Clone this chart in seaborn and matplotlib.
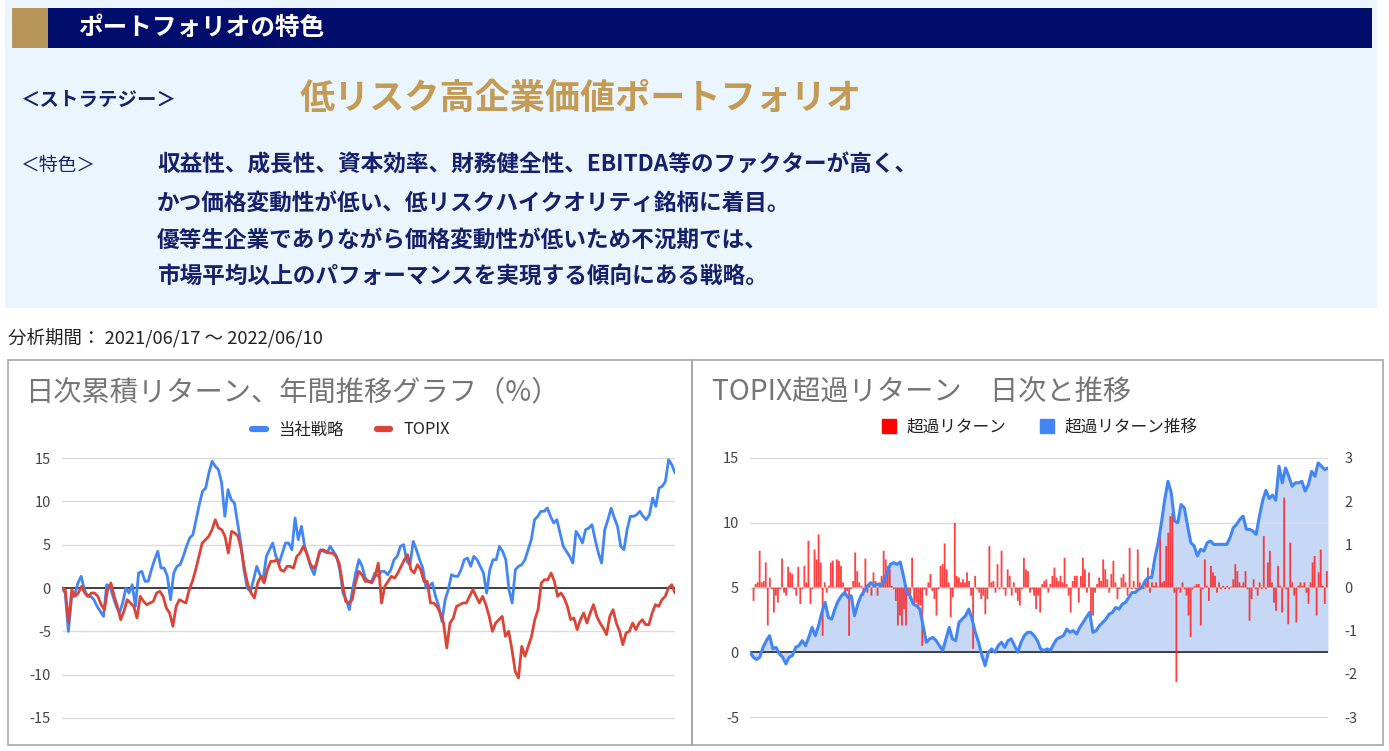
import numpy as np
import pandas as pd
import matplotlib
matplotlib.use("Agg")
import matplotlib.pyplot as plt
from matplotlib.patches import Rectangle
from matplotlib.lines import Line2D
import seaborn as sns

# ---------------- data ----------------
period_text = "分析期間： 2021/06/17 ～ 2022/06/10"
series_names = ["当社戦略", "TOPIX"]
excess_names = ["超過リターン", "超過リターン推移"]
left_ticks = [-15, -10, -5, 0, 5, 10, 15]
right_left_ticks = [-5, 0, 5, 10, 15]
right_right_ticks = [-3, -2, -1, 0, 1, 2, 3]

strategy = [0.0, -0.58, -5.0, -1.15, -0.77, 0.58, 1.35, -0.19, -0.96, -0.96, -1.35, -2.12, -2.69, -3.27,
            0.38, 0.19, -0.96, -2.12, -2.88, -1.73, 0.0, -0.58, 0.38, -2.12, 1.73, 1.92, 0.77, 0.77, 2.12,
            3.27, 4.23, 2.31, 2.31, 1.35, -1.35, 1.73, 2.5, 2.69, 3.65, 4.81, 5.77, 6.15, 7.88, 9.62, 11.15,
            11.54, 13.27, 14.62, 14.04, 13.65, 12.12, 8.27, 11.35, 10.19, 9.81, 7.5, 5.19, 2.12, 0.0, -0.38,
            0.96, 2.5, 1.54, 0.96, 3.65, 4.42, 5.19, 3.65, 2.88, 4.04, 5.19, 5.19, 4.42, 8.08, 5.58, 7.12,
            4.81, 3.65, 2.31, 1.54, 3.27, 4.42, 4.23, 4.04, 4.81, 4.23, 3.65, 2.12, -0.58, -1.35, -2.5,
            -0.19, 1.73, 3.27, 2.5, 1.15,
            0.77, 0.77, 1.73, 1.35, 1.92, 1.92, 1.54, 2.12, 3.27, 3.65, 4.81, 5.0, 3.08, 2.69, 5.38, 4.42,
            3.27, 2.31, 0.0, 0.19, 0.58, -0.96, -2.12, -3.85, -1.35, -0.19, 1.54, 1.35, 1.35, 2.12, 3.27,
            3.46, 2.5, 3.65, 3.27, 2.5, 1.73, -0.58, 2.12, 3.27, 3.27, 4.81, 4.23, 3.27, -0.19, -1.73, 2.12,
            2.5, 2.69, 3.27, 4.42, 5.58, 7.88, 8.27, 8.85, 8.85, 9.23, 8.27, 7.5, 7.88, 6.35, 4.81, 4.23,
            3.65, 2.88, 6.54, 5.96, 5.19, 6.73, 6.92, 7.31, 5.58, 4.04, 2.88, 6.73, 7.88, 9.23, 8.08, 7.12,
            4.81, 4.42, 6.73, 8.27, 8.27, 8.46, 8.85, 8.27, 7.88, 8.46, 10.38, 9.42, 11.54, 11.73, 12.31,
            14.81, 14.23, 13.27]

topix = [0.0, -0.19, -4.04, -0.19, -0.96, -0.58, 0.19, -0.58, -0.96, -0.58, -0.58, -0.96, -1.92, -2.5,
         -0.19, 0.58, -0.96, -2.12, -3.65, -2.69, -1.35, -1.73, -2.12, -3.46, -0.96, -1.54, -1.92, -1.73,
         -1.54, -0.58, -0.38, -0.96, -2.31, -2.88, -4.42, -2.12, -1.35, -1.54, -1.73, -0.19, 0.77, 2.12,
         3.65, 5.19, 5.58, 5.96, 6.73, 7.88, 6.92, 6.73, 5.96, 4.04, 6.54, 6.35, 5.96, 4.42, 2.12, 0.38,
         -0.58, -1.15, 0.58, 1.35, 0.58, 2.12, 3.08, 3.08, 3.27, 2.12, 1.92, 2.5, 2.5, 2.31, 3.65, 4.04,
         4.81, 4.04, 2.88, 2.31, 2.69, 4.23, 4.42, 4.23, 4.04, 4.04, 3.65, 2.88, 0.58, -1.54, -1.73,
         -1.35, 0.58, 1.92, 1.54, 0.77, 0.77,
         0.58, 1.35, 2.88, -1.73, 0.19, 0.77, 1.35, 1.15, 1.73, 2.5, 3.27, 3.85, 2.12, 1.73, 2.69, 2.12,
         0.77, 0.77, -1.73, -1.73, -2.12, -2.88, -4.04, -6.92, -4.04, -3.46, -2.12, -1.92, -1.73, -1.73,
         -0.96, -0.19, -0.96, -1.73, -0.96, -1.92, -3.27, -5.0, -4.04, -3.65, -3.27, -5.58, -5.0, -7.12,
         -9.62, -10.38, -6.73, -7.88, -6.73, -5.58, -3.65, -2.5, 0.58, 0.96, 0.96, 1.73, 0.77, -0.96,
         -0.58, -1.15, -2.12, -3.65, -3.46, -4.81, -3.65, -2.88, -4.04, -2.88, -1.92, -3.27, -4.04, -4.62,
         -5.38, -3.27, -2.5, -4.04, -5.0, -6.54, -5.19, -5.0, -4.04, -4.81, -4.04, -3.65, -4.23, -4.23,
         -2.88, -1.92, -2.12, -1.35, -0.96, 0.0, 0.38, -0.58]

excess_cum = [0.0, -0.38, -0.56, -0.38, 0.38, 0.9, 1.28, 0.26, 0.38, -0.13, -0.38, -0.9, -0.38, -0.26, 0.38,
              0.51, 0.9, 0.51, 1.15, 1.92, 1.28, 2.05, 3.08, 3.85, 2.69, 2.56, 3.33, 3.97, 4.36, 4.62, 4.23,
              4.36, 2.82, 3.72, 4.36, 4.74, 5.13, 5.38, 5.13, 5.26, 5.13, 5.51, 6.15, 6.79, 6.92, 6.79, 6.97,
              5.9, 4.62, 4.36, 3.72, 3.59, 3.33, 2.05, 0.77, 1.03, 1.15, 0.9, 0.51, 0.13, 1.03, 1.92, 1.03,
              0.9, 2.31, 2.56, 2.82, 3.33, 2.56, 1.54, 0.77, -0.26, -1.03, 0.0, 0.26, 0.0, 0.51, 0.77, 0.38,
              0.9, 1.03, 0.51, 0.0, 0.77, 1.28, 1.54, 1.54, 1.28,
              0.9, 0.26, 0.13, 0.26, 0.13, 0.64, 1.03, 1.15, 1.28, 1.79, 1.54, 1.67, 1.41, 1.92, 2.31, 2.69,
              3.08, 1.54, 1.67, 2.05, 2.31, 2.56, 2.95, 3.08, 3.46, 3.33, 3.72, 3.85, 4.23, 4.62, 4.62, 4.87,
              5.0, 5.51, 5.77, 5.77, 7.31, 8.46, 10.0, 11.79, 13.2, 12.3, 10.13, 10.0, 11.41, 11.15, 9.74,
              8.46, 8.21, 7.44, 7.95, 7.82, 8.46, 8.59, 8.33, 8.33, 8.33, 8.33, 8.33, 8.85, 9.62, 9.87, 10.26,
              10.51, 9.49, 9.49, 9.36, 9.1, 10.51, 11.72, 12.51, 11.87, 12.13, 11.74, 14.36, 13.08, 14.23,
              13.59, 12.82, 13.08, 13.08, 13.2, 12.44, 12.95, 13.97, 13.59, 14.62, 14.36, 14.1, 14.23]

excess_daily = [-0.31, 0.08, 0.12, 0.85, 0.12, 0.15, 0.58, -0.88, 0.23, -0.04, -0.58, -0.19, -0.35, -0.04,
                0.67, -0.12, -0.19, 0.48, 0.35, 0.31, -0.04, -0.19, 0.48, -0.38, -0.04, 0.5, 0.12, 1.08,
                -0.38, -0.04, 0.88, 0.65, 1.23, 0.58, -1.12, 0.12, -0.12, 0.04, 0.58, 0.62, 0.02, 0.65,
                0.62, 0.5, 0.12, -0.19, -0.08, -1.12, -0.04, 0.15, 0.81, 0.38, 0.12, 0.04, -0.19, 0.67,
                -0.12, 0.12, -0.19, 0.35, 0.15, -0.19, 0.12, 0.27, 0.85, 0.65, 0.5, 0.42, 0.04, -0.04,
                -0.31, -0.88, -0.65, -0.88, -0.5, -0.88, -0.19, -0.27, 0.69, -0.42, -0.35, -0.5, -0.42,
                -1.35, -0.04, -0.19, 0.12, 0.31, -0.08, -0.27, -0.65, -0.04, 0.5, 0.54, 1.02, 0.42, 0.12,
                -0.69, -0.23, 1.5, 0.27, 0.23, 0.12, 0.19, 0.12, 0.35, 0.15, -0.19, -1.42, 0.27, -0.04,
                -0.12, -0.27, -0.19, -0.62, -0.27, 0.96, 0.12, 0.15, -0.12, 0.54, -0.04, 0.85, -0.04,
                -0.19, 0.42, 0.27, -0.19, 0.12, -0.12, -0.31, -0.42, -0.04, 0.69, 0.42, 0.38, -0.12,
                -0.04, -0.19,
                -0.5, -0.19, -0.58, 0.08, 0.15, 0.19, -0.12, 0.08, 0.27, 0.46, 0.23, 0.15, 0.27, 0.12,
                0.69, 0.08, -0.19, -0.58, 0.15, 0.27, 0.27, -0.35, 0.27, 0.69, 0.42, -0.12, 0.35, -0.73,
                -0.65, -0.12, 0.08, 0.23, 0.15, 0.65, 0.42, 0.19, -0.12, 0.31, 0.62, 0.12, -0.27, -0.04,
                0.23, 0.31, 0.12, -0.19, 0.92, -0.04, 0.15, -0.04, 0.88, 0.12, 0.02, -0.04, 0.12, 0.46,
                -0.12, 0.12, 0.04, 0.12, 0.02, 1.38, 0.12, 0.15, 0.96, 1.27, 1.65, 1.73, -0.12, -2.19,
                -0.04, -0.12, 0.12, -0.04, -0.19, -0.65, -1.15, -0.04, 0.04, 0.08, 0.08, -0.88, -0.04,
                0.65, 0.04, -0.31, 0.5, 0.35, 0.27, -0.12, 0.12, -0.04, 0.04, -0.04, 0.04, -0.04, 0.02,
                0.19, 0.54, 0.38, 0.12, 0.04, 0.12, 0.38, -0.04, -0.77, -0.27, 0.19, -0.04, -0.19, 0.12,
                -0.04, 1.19, -0.04, 0.58, 0.85, 0.12, -0.35, -0.54, 0.5, 0.04, -0.58, 2.08, -0.04, -0.85,
                1.04, 0.12, -0.19, -0.81, 0.04, 0.12, 0.04, 0.12, -0.12, -0.38, 0.12, 0.58, 0.73, -0.65,
                0.35, 0.88, 0.04, -0.38, 0.38]

# ---------------- style ----------------
sns.set_style("white")
plt.rcParams["font.family"] = ["Noto Sans CJK JP", "DejaVu Sans"]
plt.rcParams["axes.unicode_minus"] = False

BLUE = "#4285f4"
RED = "#db4437"
BAR_RED = "#ff2020"
FILL = "#c6d8f6"
NAVY = "#000d6b"
GOLD = "#b8955a"
TEXT_NAVY = "#17216b"
GRID = "#dcdcdc"
TICK = "#444444"

W, H = 1389, 751
fig = plt.figure(figsize=(W / 100, H / 100), dpi=100, facecolor="white")


def fx(x):
    return x / W


def fy(y):
    return 1 - y / H


def rect(x0, y0, x1, y1, **kw):
    fig.add_artist(Rectangle((fx(x0), fy(y1)), (x1 - x0) / W, (y1 - y0) / H,
                             transform=fig.transFigure, **kw))


def axes_px(x0, y0, x1, y1):
    return fig.add_axes([fx(x0), fy(y1), (x1 - x0) / W, (y1 - y0) / H])


# ---------------- top info panel ----------------
rect(5, 0, 1377, 308, facecolor="#eaf5fd", edgecolor="none")
rect(12, 8, 48, 48, facecolor=GOLD, edgecolor="none")
rect(48, 8, 1372, 48, facecolor=NAVY, edgecolor="none")
fig.text(fx(78), fy(28), "ポートフォリオの特色", color="white", fontsize=17.7, fontweight="bold",
         va="center", ha="left")
fig.text(fx(20), fy(100), "＜ストラテジー＞", color=TEXT_NAVY, fontsize=14, fontweight="bold",
         va="center", ha="left")
fig.text(fx(300), fy(98), "低リスク高企業価値ポートフォリオ", color="#c39b55", fontsize=25.3,
         fontweight="bold", va="center", ha="left")
fig.text(fx(20), fy(165), "＜特色＞", color=TEXT_NAVY, fontsize=13.5, va="center", ha="left")
body = ["収益性、成長性、資本効率、財務健全性、EBITDA等のファクターが高く、",
        "かつ価格変動性が低い、低リスクハイクオリティ銘柄に着目。",
        "優等生企業でありながら価格変動性が低いため不況期では、",
        "市場平均以上のパフォーマンスを実現する傾向にある戦略。"]
for line, yy in zip(body, [165, 203, 240, 276]):
    fig.text(fx(157), fy(yy), line, color=TEXT_NAVY, fontsize=16.3, fontweight="bold",
             va="center", ha="left")

fig.text(fx(8), fy(338), period_text, color="#222222", fontsize=13.3, va="center", ha="left")

# chart boxes
rect(8, 360, 692, 745, facecolor="none", edgecolor="#a8a8a8", lw=1.2)
rect(692, 360, 1383, 745, facecolor="none", edgecolor="#a8a8a8", lw=1.2)

fig.text(fx(25), fy(392), "日次累積リターン、年間推移グラフ（%）", color="#757575", fontsize=20.3,
         va="center", ha="left")
fig.text(fx(712), fy(392), "TOPIX超過リターン　日次と推移", color="#757575", fontsize=20.3,
         va="center", ha="left")

NDAYS = 244

# ---------------- left chart ----------------
axL = axes_px(62, 453.7, 675, 722.3)
df_s = pd.DataFrame({"day": np.linspace(0, NDAYS, len(strategy)), "val": strategy})
df_t = pd.DataFrame({"day": np.linspace(0, NDAYS, len(topix)), "val": topix})
axL.set_yticks(left_ticks)
axL.grid(axis="y", color=GRID, lw=1)
axL.axhline(0, color="#333333", lw=1.3, zorder=1.5)
sns.lineplot(data=df_t, x="day", y="val", color=RED, lw=2.0, ax=axL, zorder=3)
sns.lineplot(data=df_s, x="day", y="val", color=BLUE, lw=2.0, ax=axL, zorder=2)
axL.set_ylim(-15.5, 15.5)
axL.set_xlim(0, NDAYS)
axL.set_xticks([])
axL.set_xlabel("")
axL.set_ylabel("")
axL.tick_params(axis="y", length=0, pad=8, labelsize=10.5, labelcolor=TICK)
for s in axL.spines.values():
    s.set_visible(False)
axL.patch.set_alpha(0)

fig.legend(handles=[Line2D([], [], color=BLUE, lw=4.5), Line2D([], [], color=RED, lw=4.5)],
           labels=series_names, loc="center", bbox_to_anchor=(fx(351), fy(430)), ncol=2,
           frameon=False, fontsize=11.8, handlelength=0.8, handletextpad=0.8, columnspacing=2.0,
           labelcolor="#222222")

# ---------------- right chart ----------------
LO, HI = -5.3, 15.3
axF = axes_px(750, 454.1, 1328, 720.9)
days_c = np.linspace(0, NDAYS, len(excess_cum))
axF.fill_between(days_c, excess_cum, 0, color=FILL, lw=0, zorder=0.3)
axF.set_yticks(right_left_ticks)
axF.grid(axis="y", color=GRID, lw=1)
axF.axhline(0, color="#333333", lw=1.3, zorder=1.5)
axF.set_ylim(LO, HI)
axF.set_xlim(0, NDAYS)
axF.set_xticks([])
axF.tick_params(axis="y", length=0, pad=8, labelsize=10.5, labelcolor=TICK)
for s in axF.spines.values():
    s.set_visible(False)
axF.patch.set_alpha(0)

axB = axF.twinx()
df_b = pd.DataFrame({"day": np.round(np.linspace(1.5, NDAYS - 0.5, len(excess_daily)), 4),
                     "val": excess_daily})
sns.barplot(data=df_b, x="day", y="val", native_scale=True, color=BAR_RED, alpha=0.8,
            width=0.9, errorbar=None, ax=axB, linewidth=0, edgecolor="none", saturation=1)
for p in axB.patches:
    p.set_snap(False)
    p.set_facecolor(BAR_RED)
    p.set_alpha(0.85)
axB.set_ylim((LO - 5) * 0.3, (HI - 5) * 0.3)
axB.set_yticks(right_right_ticks)
axB.set_xlim(0, NDAYS)
axB.set_xticks([])
axB.set_xlabel("")
axB.set_ylabel("")
axB.tick_params(axis="y", length=0, pad=12, labelsize=10.5, labelcolor=TICK)
for s in axB.spines.values():
    s.set_visible(False)

axLine = axF.twinx()
df_c = pd.DataFrame({"day": days_c, "val": excess_cum})
sns.lineplot(data=df_c, x="day", y="val", color=BLUE, lw=2.2, ax=axLine)
axLine.set_ylim(LO, HI)
axLine.set_xlim(0, NDAYS)
axLine.set_yticks([])
axLine.set_xticks([])
axLine.set_xlabel("")
axLine.set_ylabel("")
for s in axLine.spines.values():
    s.set_visible(False)

fig.legend(handles=[Line2D([], [], marker="s", lw=0, markersize=10, markerfacecolor="#ff0000",
                           markeredgecolor="#ff0000"),
                    Line2D([], [], marker="s", lw=0, markersize=10, markerfacecolor=BLUE,
                           markeredgecolor=BLUE)],
           labels=excess_names, loc="center", bbox_to_anchor=(fx(1040), fy(427)), ncol=2,
           frameon=False, fontsize=12, handlelength=0.8, handletextpad=0.7, columnspacing=2.0,
           labelcolor="#222222")

fig.savefig("out.png", dpi=100, facecolor="white")
